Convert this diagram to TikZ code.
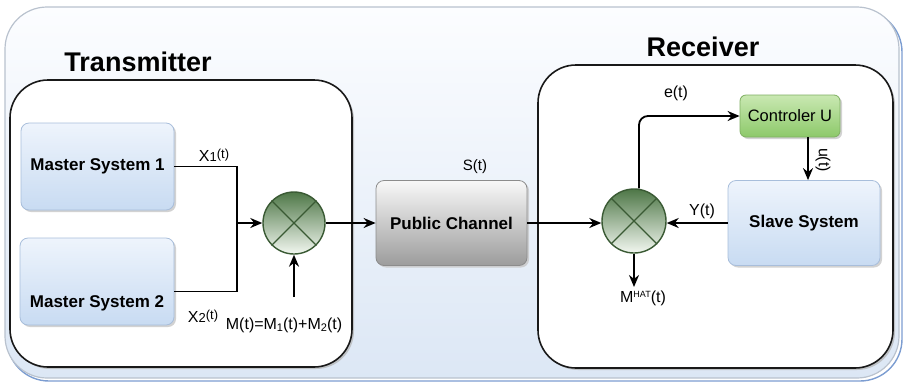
\documentclass[tikz,border=0pt]{standalone}
\usepackage{fontspec}
\setmainfont{Liberation Sans}
\usetikzlibrary{arrows.meta,shadows}

\definecolor{bgtop}{HTML}{FCFDFF}
\definecolor{bgbot}{HTML}{DCE7F5}
\definecolor{bgline}{HTML}{B9C2CE}
\definecolor{bgblue}{HTML}{7C9DD1}
\definecolor{mstop}{HTML}{EEF4FC}
\definecolor{msbot}{HTML}{C8DBF2}
\definecolor{msline}{HTML}{A8BEDB}
\definecolor{pctop}{HTML}{F8F8F8}
\definecolor{pcbot}{HTML}{9C9C9C}
\definecolor{pcline}{HTML}{8C8C8C}
\definecolor{cutop}{HTML}{C9E8B2}
\definecolor{cubot}{HTML}{8DC96A}
\definecolor{culine}{HTML}{7FAF62}
\definecolor{mxtop}{HTML}{4E7747}
\definecolor{mxbot}{HTML}{F2F7F0}
\definecolor{mxline}{HTML}{3A5A34}

\begin{document}
\begin{tikzpicture}[x=1pt,y=-1pt,
  boxshadow/.style={drop shadow={shadow xshift=2pt,shadow yshift=-2pt,fill=black!22,opacity=0.8}},
  frame/.style={draw=black!90,line width=1.6pt,rounded corners=38pt,fill=white,
    drop shadow={shadow xshift=2pt,shadow yshift=-2pt,fill=black!30,opacity=0.7}},
  sysbox/.style={draw=msline,line width=0.8pt,rounded corners=8pt,top color=mstop,bottom color=msbot,
    boxshadow,inner sep=0pt,font=\fontsize{17}{20}\selectfont\bfseries},
  chanbox/.style={draw=pcline,line width=0.8pt,rounded corners=8pt,top color=pctop,bottom color=pcbot,
    boxshadow,inner sep=0pt,font=\fontsize{17}{20}\selectfont\bfseries},
  ctrlbox/.style={draw=culine,line width=0.8pt,rounded corners=6pt,top color=cutop,bottom color=cubot,
    boxshadow,inner sep=0pt,font=\fontsize{16.5}{19}\selectfont},
  mixer/.style={circle,draw=mxline,line width=1.4pt,top color=mxtop,bottom color=mxbot,
    minimum size=#1,inner sep=0pt},
  cross/.style={draw=mxline,line width=1.3pt},
  wire/.style={line width=1.8pt,draw=black},
  arr/.style={wire,-{Stealth[length=12pt,width=10pt]}},
  sig/.style={font=\fontsize{16}{18}\selectfont,inner sep=1pt},
  title/.style={font=\fontsize{27}{30}\selectfont\bfseries,inner sep=0pt}
]
\useasboundingbox (0,0) rectangle (907,384);

% background panel with its blue rim
\draw[bgblue,line width=1.4pt,rounded corners=42pt] (7,10) rectangle (902,381);
\draw[bgline,line width=1.2pt,rounded corners=42pt,top color=bgtop,bottom color=bgbot]
  (5,7) rectangle (899,378);

% transmitter and receiver frames
\path[frame] (10,80) rectangle (352,367);
\path[frame] (538,65) rectangle (893,368);

\node[title] (ttx) at (138,62) {Transmitter};
\node[title] (trx) at (703,47) {Receiver};

% transmitter blocks
\node[sysbox,minimum width=153pt,minimum height=87pt] (ms1) at (97.5,166.5) {Master System 1};
\node[sysbox,minimum width=154pt,minimum height=87pt] (ms2) at (97,281.5) {};
\node[font=\fontsize{17}{20}\selectfont\bfseries,inner sep=0pt] (ms2t) at (97,303) {Master System 2};

\node[mixer=62pt] (mix1) at (294,223) {};
\draw[cross] (mix1.north west) -- (mix1.south east);
\draw[cross] (mix1.north east) -- (mix1.south west);

% public channel
\node[chanbox,minimum width=151pt,minimum height=85pt] (pc) at (451.5,223) {Public Channel};

% receiver blocks
\node[mixer=64pt] (mix2) at (634,221) {};
\draw[cross] (mix2.north west) -- (mix2.south east);
\draw[cross] (mix2.north east) -- (mix2.south west);

\node[ctrlbox,minimum width=100pt,minimum height=42pt] (ctrl) at (790,116) {Controler U};
\node[sysbox,minimum width=152pt,minimum height=85pt] (slave) at (804,223) {Slave System};

% connectors
\coordinate (j1) at (237,223);
\coordinate (min) at (294,297);
\coordinate (mhat) at (634,287);

\draw[wire] (ms1.east) -| (j1);
\draw[wire] ([yshift=-10pt]ms2.east) -| (j1);
\draw[arr] (j1) -- (mix1.west);
\draw[arr] (min) -- (mix1.south);
\draw[arr] (mix1.east) -- (pc.west);
\draw[arr] (pc.east) -- (pc.east -| mix2.west);
\draw[arr,rounded corners=9pt] ([xshift=5pt]mix2.north) |- (ctrl.west);
\draw[arr] ([xshift=18pt]ctrl.south) -- ([xshift=18pt]ctrl.south |- slave.north);
\draw[arr] (slave.west) -- (slave.west -| mix2.east);
\draw[arr] (mix2.south) -- (mhat);

% signal labels
\node[sig] (lx1) at (214,155) {X{\fontsize{13}{14}\selectfont 1\raisebox{3pt}{(t)}}};
\node[sig] (lx2) at (203,316) {X{\fontsize{13}{14}\selectfont 2\raisebox{3pt}{(t)}}};
\node[sig] (lm) at (284,325)
  {M(t)=M\raisebox{-2pt}{\fontsize{11}{12}\selectfont 1}(t)+M\raisebox{-2pt}{\fontsize{11}{12}\selectfont 2}(t)};
\node[sig,font=\fontsize{15}{17}\selectfont] (ls) at (475,167) {S(t)};
\node[sig] (le) at (676,93) {e(t)};
\node[sig,rotate=-90] (lu) at (823,160) {u(t)};
\node[sig] (ly) at (702,211) {Y(t)};
\node[sig] (lmh) at (643,298) {M\raisebox{5pt}{\fontsize{9}{10}\selectfont HAT}(t)};
\end{tikzpicture}
\end{document}
